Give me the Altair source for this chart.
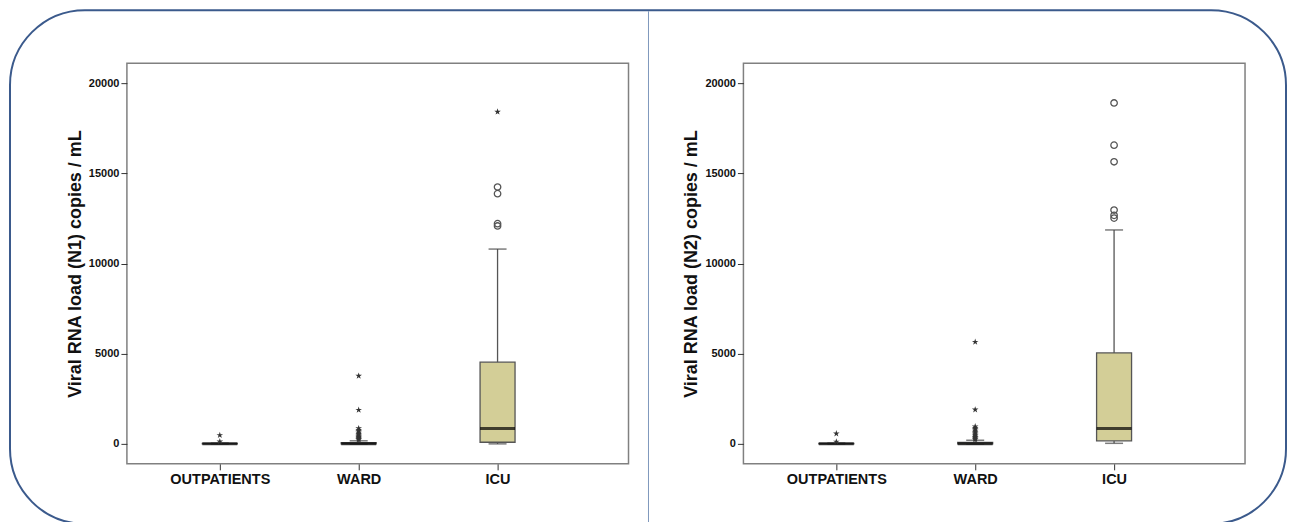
import altair as alt
import pandas as pd

categories = ["OUTPATIENTS", "WARD", "ICU"]

# N1 panel box statistics
n1_low = [0, 0, 0]
n1_q1 = [0, 0, 90]
n1_median = [0, 10, 850]
n1_q3 = [20, 70, 4530]
n1_high = [40, 170, 10800]
n1_circles_icu = [14240, 13870, 12210, 12080]
n1_stars_out = [480, 130]
n1_stars_ward = [3770, 1880, 860, 770, 690, 610, 540, 480, 420, 370, 320, 270, 230]
n1_stars_icu = [18410]

# N2 panel box statistics
n2_low = [0, 0, 30]
n2_q1 = [0, 0, 170]
n2_median = [0, 10, 850]
n2_q3 = [20, 80, 5040]
n2_high = [40, 200, 11860]
n2_circles_icu = [18900, 16560, 15640, 12960, 12670, 12520]
n2_stars_out = [570, 120]
n2_stars_ward = [5650, 1900, 960, 880, 800, 720, 640, 570, 500, 440, 380, 330, 280, 240]
n2_stars_icu = []

y_ticks = [0, 5000, 10000, 15000, 20000]

STAR = ("M0,-1L0.2245,-0.309L0.951,-0.309L0.363,0.118L0.588,0.809L0,0.382"
        "L-0.588,0.809L-0.363,0.118L-0.951,-0.309L-0.2245,-0.309Z")

FONT = "Liberation Sans"


def make_panel(title, low, q1, med, q3, high, circles_icu, stars_out, stars_ward,
               stars_icu, decor=False):
    box = pd.DataFrame({"cat": categories, "low": low, "q1": q1, "med": med,
                        "q3": q3, "high": high})
    circ = pd.DataFrame({"cat": ["ICU"] * len(circles_icu), "v": circles_icu})
    stars = pd.DataFrame({
        "cat": ["OUTPATIENTS"] * len(stars_out) + ["WARD"] * len(stars_ward)
        + ["ICU"] * len(stars_icu),
        "v": list(stars_out) + list(stars_ward) + list(stars_icu),
    })

    xenc = alt.X("cat:N", sort=categories,
                 scale=alt.Scale(type="point", domain=categories, padding=0.806, align=0.415),
                 axis=alt.Axis(title=None, labelAngle=0, domain=False, ticks=True,
                               tickSize=6, tickColor="#333", labelFontSize=14.5,
                               labelFontWeight="bold", labelFont=FONT,
                               labelColor="#111", labelPadding=3))
    yscale = alt.Scale(domain=[-1108, 21108], nice=False, zero=False)
    yaxis = alt.Axis(title=title, values=y_ticks, grid=False, domain=False,
                     tickSize=6, tickColor="#333", labelFontSize=11,
                     labelFontWeight="bold", labelFont=FONT, labelColor="#111",
                     labelPadding=2, titleFontSize=18, titleFontWeight="bold",
                     titleFont=FONT, titleColor="#111", titlePadding=4, format="d")

    base = alt.Chart(box)
    whisk_up = base.mark_rule(color="#555", strokeWidth=1.3).encode(
        x=xenc, y=alt.Y("q3:Q", scale=yscale, axis=yaxis), y2="high:Q")
    whisk_lo = base.mark_rule(color="#555", strokeWidth=1.3).encode(
        x=xenc, y=alt.Y("low:Q", scale=yscale, axis=yaxis), y2="q1:Q")
    cap_hi = base.mark_tick(color="#444", size=18, thickness=1.5, orient="horizontal").encode(
        x=xenc, y=alt.Y("high:Q", scale=yscale, axis=yaxis))
    cap_lo = base.mark_tick(color="#444", size=18, thickness=1.5, orient="horizontal").encode(
        x=xenc, y=alt.Y("low:Q", scale=yscale, axis=yaxis))
    boxes = base.mark_bar(size=35, fill="#D3CE97", stroke="#555", strokeWidth=1.3).encode(
        x=xenc, y=alt.Y("q1:Q", scale=yscale, axis=yaxis), y2="q3:Q")
    median = base.mark_tick(color="#000", size=35, thickness=3, orient="horizontal").encode(
        x=xenc, y=alt.Y("med:Q", scale=yscale, axis=yaxis))
    circles = alt.Chart(circ).mark_point(shape="circle", filled=False, color="#555",
                                         strokeWidth=1.3, size=42, opacity=1).encode(
        x=xenc, y=alt.Y("v:Q", scale=yscale, axis=yaxis))
    star_pts = alt.Chart(stars).mark_point(shape=STAR, filled=True, color="#333",
                                           size=48, opacity=1).encode(
        x=xenc, y=alt.Y("v:Q", scale=yscale, axis=yaxis))

    layers = [whisk_up, whisk_lo, cap_hi, cap_lo, boxes, median, circles, star_pts]
    if decor:
        one = alt.Chart(pd.DataFrame({"k": [0]}))
        frame = one.mark_rect(fillOpacity=0, stroke="#3B5A8C", strokeWidth=2,
                              cornerRadius=75).encode(
            x=alt.value(-117), x2=alt.value(1160), y=alt.value(-53), y2=alt.value(461))
        divider = one.mark_rule(color="#7F98BD", strokeWidth=1).encode(
            x=alt.value(522), y=alt.value(-52), y2=alt.value(461))
        layers = [frame, divider] + layers
    return alt.layer(*layers).properties(width=502, height=401)


left = make_panel("Viral RNA load (N1) copies / mL", n1_low, n1_q1, n1_median, n1_q3,
                  n1_high, n1_circles_icu, n1_stars_out, n1_stars_ward, n1_stars_icu,
                  decor=True)
right = make_panel("Viral RNA load (N2) copies / mL", n2_low, n2_q1, n2_median, n2_q3,
                   n2_high, n2_circles_icu, n2_stars_out, n2_stars_ward, n2_stars_icu)

chart = alt.hconcat(left, right, spacing=115).properties(
    bounds="flush",
    padding={"left": 0, "top": 0, "right": 0, "bottom": -4},
    background="white",
).configure_view(stroke="#808080", strokeWidth=1.5)

chart.save("out.html", embed_options={"renderer": "svg", "actions": False})
